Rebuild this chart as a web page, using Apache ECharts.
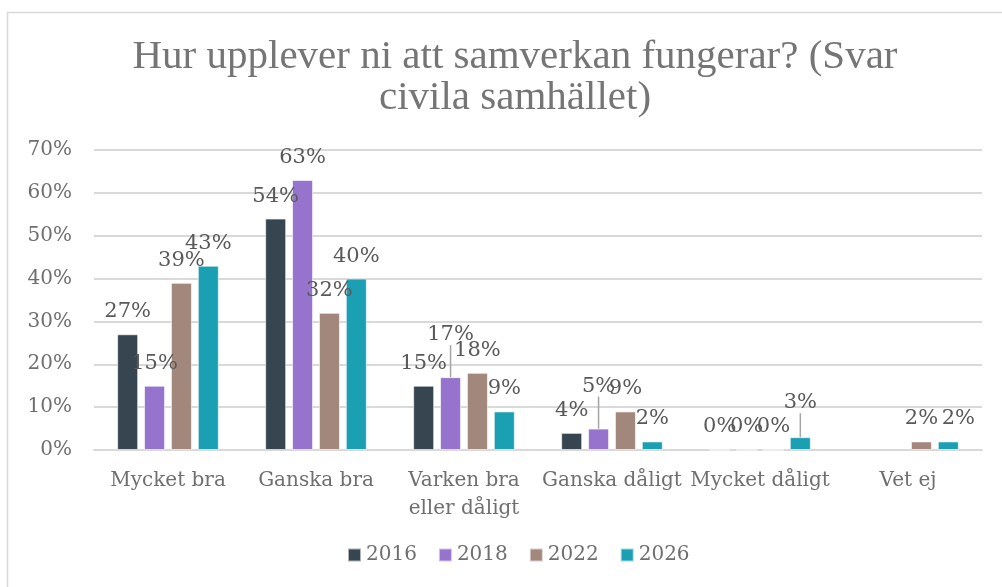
<!DOCTYPE html>
<html>
<head>
<meta charset="utf-8">
<script src="https://cdn.jsdelivr.net/npm/echarts@6/dist/echarts.min.js"></script>
<style>
  html, body { margin: 0; padding: 0; background: #fff; }
  #main { width: 1002px; height: 587px; }
</style>
</head>
<body>
<div id="main"></div>
<script>
var categories = ['Mycket bra', 'Ganska bra', 'Varken bra\neller dåligt', 'Ganska dåligt', 'Mycket dåligt', 'Vet ej'];
var years = ['2016', '2018', '2022', '2026'];
var v2016 = [27, 54, 15, 4, 0, null];
var v2018 = [15, 63, 17, 5, 0, null];
var v2022 = [39, 32, 18, 9, 0, 2];
var v2026 = [43, 40, 9, 2, 3, 2];
var colors = ['#36454f', '#9673cc', '#a1877c', '#1a9fb3'];
var yTicks = [0, 10, 20, 30, 40, 50, 60, 70];

// labels moved by hand: [seriesIndex, dataIndex, dx, dy, leader line]
var moved = [[1, 2, 0, -20, true], [1, 3, 0, -20, true], [3, 4, 0, -12, true], [3, 5, 10, 0, false]];

var titleFont = '"Liberation Serif", serif';
var font = '"DejaVu Serif", serif';
var myChart = echarts.init(document.getElementById('main'));

function findMoved(s, i) {
  for (var k = 0; k < moved.length; k++) {
    if (moved[k][0] === s && moved[k][1] === i) return moved[k];
  }
  return null;
}

var allValues = [v2016, v2018, v2022, v2026];
var series = allValues.map(function (vals, s) {
  return {
    name: years[s],
    type: 'bar',
    barWidth: 21,
    barGap: '28%',
    itemStyle: { color: colors[s], borderColor: 'rgba(255,255,255,0.6)', borderWidth: 1 },
    label: {
      show: true,
      position: 'top',
      distance: 12,
      color: '#595959',
      fontFamily: font,
      fontSize: 21,
      formatter: '{c}%'
    },
    labelLine: { show: false, lineStyle: { color: '#a6a6a6', width: 1.5 } },
    labelLayout: function (p) {
      var m = findMoved(p.seriesIndex, p.dataIndex);
      return m ? { dx: m[2], dy: m[3] } : {};
    },
    data: vals.map(function (v, i) {
      var item = { value: v };
      var m = findMoved(s, i);
      if (m && m[4]) item.labelLine = { show: true };
      return item;
    })
  };
});

myChart.setOption({
  animation: false,
  title: {
    text: 'Hur upplever ni att samverkan fungerar? (Svar\ncivila samhället)',
    left: 510,
    textAlign: 'center',
    top: 32,
    textStyle: { fontFamily: titleFont, fontSize: 41, fontWeight: 'normal', color: '#757575', lineHeight: 41 }
  },
  graphic: [{
    type: 'rect',
    shape: { x: 7.5, y: 12.5, width: 1010, height: 600 },
    style: { fill: 'none', stroke: '#d9d9d9', lineWidth: 1.5 },
    silent: true
  }],
  legend: {
    data: years,
    bottom: 17,
    left: 342,
    itemWidth: 13,
    itemHeight: 13,
    itemGap: 21,
    icon: 'rect',
    textStyle: { fontFamily: font, fontSize: 20, color: '#6f6f6f' }
  },
  grid: { left: 94, right: 20, top: 150, bottom: 137 },
  xAxis: {
    type: 'category',
    data: categories,
    axisTick: { show: false },
    axisLine: { lineStyle: { color: '#d9d9d9', width: 2 } },
    axisLabel: {
      interval: 0,
      margin: 17,
      fontFamily: font,
      fontSize: 20,
      lineHeight: 28,
      color: '#6f6f6f'
    }
  },
  yAxis: {
    type: 'value',
    min: yTicks[0],
    max: yTicks[yTicks.length - 1],
    interval: 10,
    axisLine: { show: false },
    axisTick: { show: false },
    splitLine: { lineStyle: { color: '#d9d9d9', width: 2 } },
    axisLabel: {
      margin: 22,
      fontFamily: font,
      fontSize: 20,
      color: '#6f6f6f',
      formatter: '{value}%'
    }
  },
  series: series
});
</script>
</body>
</html>
